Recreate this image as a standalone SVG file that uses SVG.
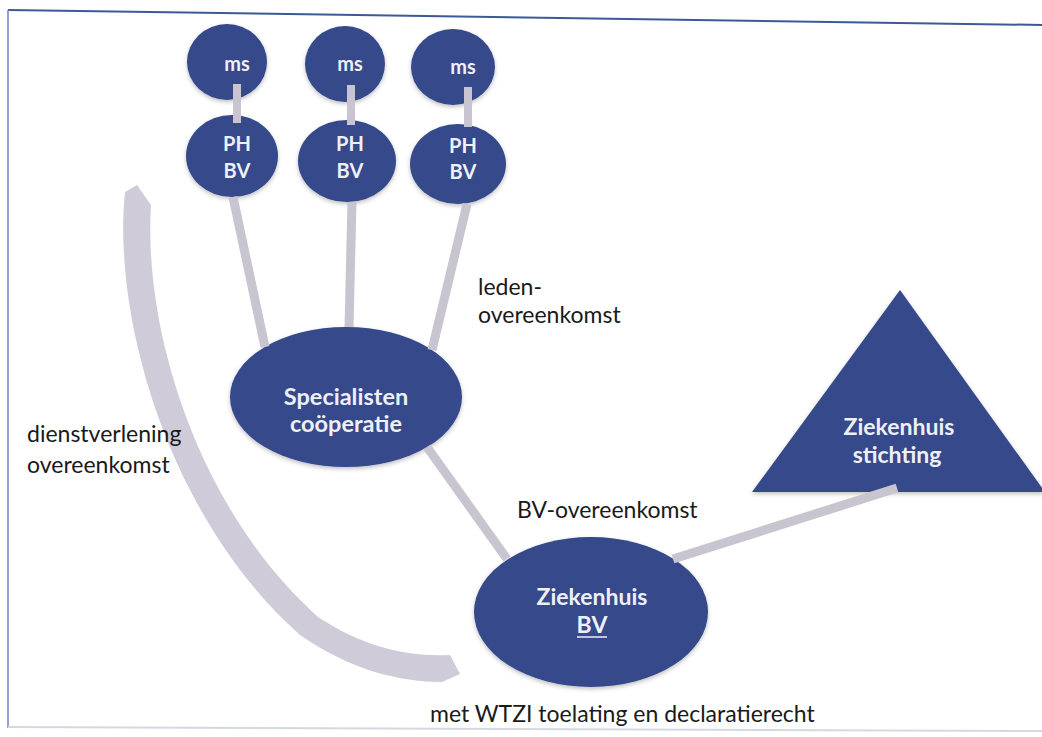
<svg xmlns="http://www.w3.org/2000/svg" width="1042" height="737" viewBox="0 0 1042 737">
<defs>
<style>
.node{fill:#34488b;}
.nt{font-family:Lato,"Liberation Sans",sans-serif;font-weight:bold;fill:#eef0f6;text-anchor:middle;}
.lbl{font-family:Lato,"Liberation Sans",sans-serif;fill:#1a1a1a;font-size:23px;}
.con{stroke:#c8c4d0;stroke-width:9;fill:none;}
.stub{fill:#c8c4d0;}
</style>
<filter id="sh" x="-10%" y="-10%" width="120%" height="130%">
<feDropShadow dx="0" dy="2" stdDeviation="2" flood-color="#000" flood-opacity="0.25"/>
</filter>
</defs>
<rect width="1042" height="737" fill="#ffffff"/>
<g id="frame" fill="none">
<line x1="8" y1="10" x2="1042" y2="25" stroke="#3c5a96" stroke-width="2"/>
<line x1="8" y1="10" x2="8" y2="728" stroke="#6a86c0" stroke-width="1.5"/>
<line x1="8" y1="727" x2="1042" y2="731" stroke="#d4d8e0" stroke-width="2"/>
</g>
<g id="arc">
<path d="M125 192 C112 320 170 520 300 635 C350 670 400 682 442 682 L460 674 L450 655 C405 657 362 646 318 617 C198 510 143 330 151 205 L137 185 Z" fill="#d0cbd9"/>
</g>
<g id="ms1"><ellipse class="node" cx="227" cy="62" rx="40" ry="38" filter="url(#sh)"/><text class="nt" x="237" y="71" font-size="20">ms</text></g>
<g id="ms2"><ellipse class="node" cx="345" cy="64" rx="40" ry="38" filter="url(#sh)"/><text class="nt" x="350" y="71" font-size="20">ms</text></g>
<g id="ms3"><ellipse class="node" cx="453" cy="67" rx="42" ry="38" filter="url(#sh)"/><text class="nt" x="463" y="74" font-size="20">ms</text></g>
<g id="ph1"><ellipse class="node" cx="232" cy="156" rx="46" ry="41" filter="url(#sh)"/><text class="nt" x="237" y="151" font-size="20">PH</text><text class="nt" x="237" y="178" font-size="20">BV</text></g>
<g id="ph2"><ellipse class="node" cx="347" cy="161" rx="49" ry="41" filter="url(#sh)"/><text class="nt" x="350" y="151" font-size="20">PH</text><text class="nt" x="350" y="178" font-size="20">BV</text></g>
<g id="ph3"><ellipse class="node" cx="458" cy="164" rx="48" ry="40" filter="url(#sh)"/><text class="nt" x="463" y="153" font-size="20">PH</text><text class="nt" x="463" y="179" font-size="20">BV</text></g>
<g id="coop"><ellipse class="node" cx="346" cy="397" rx="116" ry="70" filter="url(#sh)"/><text class="nt" x="346" y="405" font-size="23.5">Specialisten</text><text class="nt" x="346" y="432" font-size="23.5">coöperatie</text></g>
<g id="zbv"><ellipse class="node" cx="591" cy="612" rx="117" ry="75" filter="url(#sh)"/><text class="nt" x="592" y="605" font-size="23">Ziekenhuis</text><text class="nt" x="592" y="633" font-size="23">BV</text><line x1="577" y1="637" x2="607" y2="637" stroke="#eef0f6" stroke-width="1.5"/></g>
<g id="zst"><polygon class="node" points="900,290 752,492 1045,492" filter="url(#sh)"/><text class="nt" x="899" y="435" font-size="23">Ziekenhuis</text><text class="nt" x="897" y="463" font-size="23">stichting</text></g>
<g id="connectors">
<rect class="stub" x="233" y="84" width="8" height="39"/>
<rect class="stub" x="347" y="85" width="8" height="40"/>
<rect class="stub" x="464" y="87" width="8" height="40"/>
<line class="con" x1="233" y1="197" x2="265" y2="347"/>
<line class="con" x1="352" y1="202" x2="349" y2="327"/>
<line class="con" x1="467" y1="204" x2="432" y2="350"/>
<line class="con" x1="427" y1="447" x2="507" y2="559"/>
<line class="con" x1="673" y1="559" x2="897" y2="488"/>
</g>
<g id="labels">
<text class="lbl" x="478" y="295">leden-</text>
<text class="lbl" x="478" y="323">overeenkomst</text>
<text class="lbl" x="27" y="442">dienstverlening</text>
<text class="lbl" x="27" y="473">overeenkomst</text>
<text class="lbl" x="517" y="518">BV-overeenkomst</text>
<text class="lbl" x="430" y="722">met WTZI toelating en declaratierecht</text>
</g>
</svg>
